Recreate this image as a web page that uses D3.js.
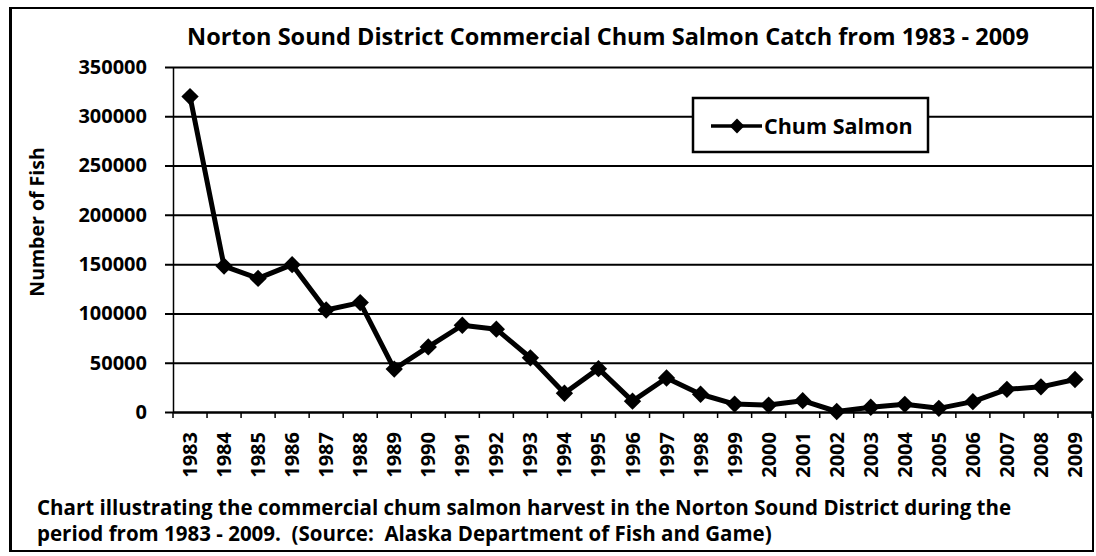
<!DOCTYPE html>
<html><head><meta charset="utf-8">
<script src="https://cdn.jsdelivr.net/npm/d3@7"></script>
<style>body{margin:0;background:#fff}svg{display:block}text{font-family:"Open Sans",sans-serif;font-weight:700;fill:#000}</style>
</head><body><svg id="c" width="1096" height="556"></svg>
<script>
const years = ["1983","1984","1985","1986","1987","1988","1989","1990","1991","1992","1993","1994","1995","1996","1997","1998","1999","2000","2001","2002","2003","2004","2005","2006","2007","2008","2009"];
const chum = [320000,148000,135500,149500,103500,111000,43500,66000,88000,84000,55000,19000,44000,11000,34500,18000,8000,7000,11500,500,4800,7800,3700,10500,23000,25500,33000];
const yTicks = [0,50000,100000,150000,200000,250000,300000,350000];
const seriesName = "Chum Salmon";
const title = "Norton Sound District Commercial Chum Salmon Catch from 1983 - 2009";
const yLabel = "Number of Fish";
const caption = ["Chart illustrating the commercial chum salmon harvest in the Norton Sound District during the", "period from 1983 - 2009.  (Source:  Alaska Department of Fish and Game)"];

const svg = d3.select("#c");
const L = 173, R = 1092, T = 67, B = 412;
const x = d3.scaleBand().domain(years).range([L, R]);
const y = d3.scaleLinear().domain([0, 350000]).range([B, T]);

// outer frame
svg.append("rect").attr("x",10).attr("y",8).attr("width",1083).attr("height",543)
  .attr("fill","none").attr("stroke","#000").attr("stroke-width",2);
svg.append("line").attr("x1",10.5).attr("x2",10.5).attr("y1",8).attr("y2",551).attr("stroke","#000").attr("stroke-width",3);

// gridlines + y axis
const ya = svg.append("g").attr("transform",`translate(${L},0)`)
  .call(d3.axisLeft(y).tickValues(yTicks).tickSize(-(R-L)).tickSizeOuter(0).tickPadding(26).tickFormat(d3.format("d")));
ya.select(".domain").attr("stroke","#000").attr("stroke-width",1.5);
ya.selectAll(".tick line").attr("stroke","#000").attr("stroke-width",2).attr("x1",-8);
ya.selectAll(".tick text").style("font-size","20px").attr("font-family","Open Sans");

// x axis
const xa = svg.append("g").attr("transform",`translate(0,${B})`)
  .call(d3.axisBottom(x).tickSize(0).tickSizeOuter(0));
xa.select(".domain").attr("stroke","#000").attr("stroke-width",2);
xa.selectAll(".tick text").style("font-size","20px")
  .attr("transform","rotate(-90)").attr("text-anchor","end").attr("dy","0.35em").attr("x",-20).attr("y",0);
// boundary ticks
const bounds = years.map(d => x(d)).concat([R]);
svg.append("g").selectAll("line").data(bounds).join("line")
  .attr("x1",d=>d).attr("x2",d=>d).attr("y1",B).attr("y2",B+6).attr("stroke","#000").attr("stroke-width",1.5);

// line
const cx = d => x(d) + x.bandwidth()/2;
svg.append("path").datum(chum.map((v,i)=>[years[i],v]))
  .attr("fill","none").attr("stroke","#000").attr("stroke-width",5).attr("stroke-linejoin","round")
  .attr("d", d3.line().x(d=>cx(d[0])).y(d=>y(d[1])));
const diamond = d3.symbol(d3.symbolSquare, 150);
svg.append("g").selectAll("path").data(chum).join("path")
  .attr("d", diamond).attr("fill","#000")
  .attr("transform",(v,i)=>`translate(${cx(years[i])},${y(v)}) rotate(45)`);

// title
svg.append("text").attr("x",608).attr("y",45).attr("text-anchor","middle").style("font-size","23.5px").text(title);
// y label
svg.append("text").attr("transform","translate(44,222) rotate(-90)").attr("text-anchor","middle").style("font-size","19.5px").text(yLabel);
// caption
caption.forEach((c,i)=> svg.append("text").attr("x",37).attr("y",515+i*26).style("font-size","20.5px").style("white-space","pre").text(c));

// legend
const lg = svg.append("g");
lg.append("rect").attr("x",693).attr("y",98).attr("width",235).attr("height",54).attr("fill","#fff").attr("stroke","#000").attr("stroke-width",2.5);
lg.append("line").attr("x1",711).attr("x2",762).attr("y1",126).attr("y2",126).attr("stroke","#000").attr("stroke-width",3.5);
lg.append("path").attr("d",d3.symbol(d3.symbolSquare,110)).attr("fill","#000").attr("transform","translate(737,126) rotate(45)");
lg.append("text").attr("x",764).attr("y",134).style("font-size","21.5px").text(seriesName);
</script></body></html>
